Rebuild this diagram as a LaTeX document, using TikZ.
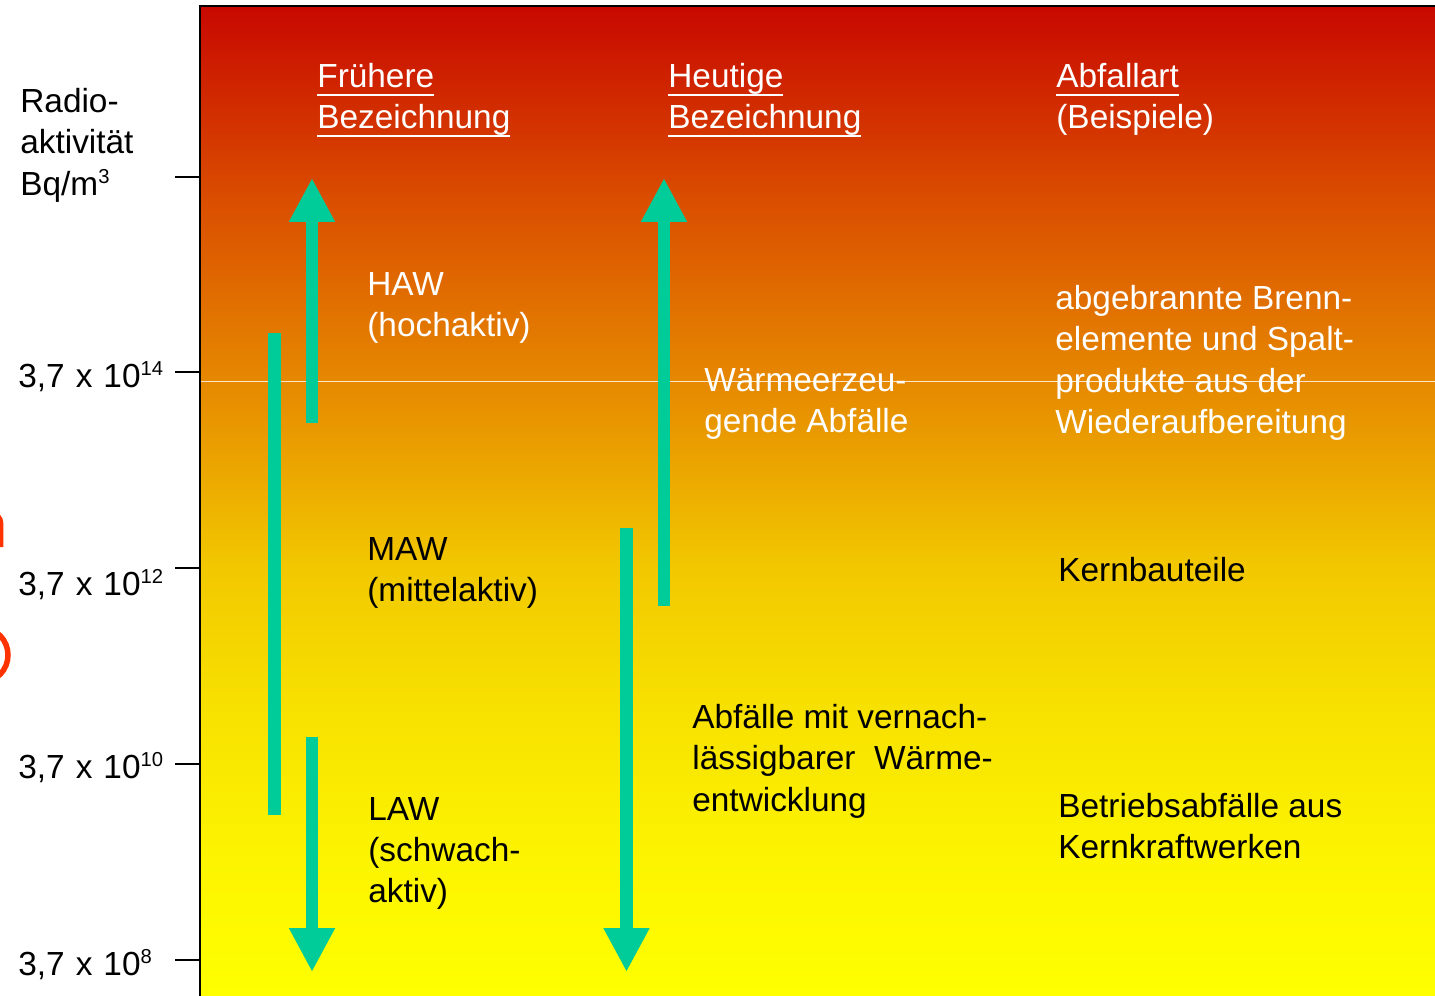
\documentclass[tikz,border=0pt]{standalone}
\usepackage{fontspec}
\setmainfont{Liberation Sans}
\usepackage{tikz}
\usetikzlibrary{arrows.meta}
\usepackage{xcolor}

\definecolor{strahlgruen}{RGB}{0,204,153}
\definecolor{fragmentrot}{RGB}{255,51,0}
\definecolor{skgelb}{RGB}{255,255,0}
\definecolor{skeins}{RGB}{252,243,0}
\definecolor{skzwei}{RGB}{247,224,0}
\definecolor{skdrei}{RGB}{242,200,0}
\definecolor{skvier}{RGB}{230,136,0}
\definecolor{skfuenf}{RGB}{218,78,0}
\definecolor{skrot}{RGB}{200,8,0}

% Farbverlauf von gelb (unten) nach rot (oben)
\pgfdeclareverticalshading{aktiv}{100bp}{color(0bp)=(skgelb);
  color(25bp)=(skgelb); color(32.4bp)=(skeins); color(39.9bp)=(skzwei);
  color(46.6bp)=(skdrei); color(56.1bp)=(skvier); color(65.2bp)=(skfuenf);
  color(75bp)=(skrot); color(100bp)=(skrot)}

\newcommand{\hoch}[1]{\raisebox{6.8pt}{\fontsize{11.5}{12}\selectfont #1}}
\newcommand{\unterstr}[1]{\setbox0\hbox{#1}\rlap{\rule[-4.6pt]{\wd0}{1.1pt}}\box0}

\begin{document}
\begin{tikzpicture}[x=0.02cm, y=-0.02cm,
            schrift/.style={anchor=north west, inner sep=0pt, align=left,
                font=\fontsize{19}{23.5}\selectfont},
            skala/.style={anchor=base west, inner sep=0pt,
                font=\fontsize{19}{23.5}\selectfont},
            pfeil/.style={strahlgruen, line width=0.25cm,
                -{Triangle[width=0.86cm, length=0.88cm]}},
            balken/.style={strahlgruen, line width=0.26cm}]
            \useasboundingbox (0,0) rectangle (1435,996);

            % Hintergrund
            \shade[shading=aktiv] (200,6) rectangle (1435,996);
            \draw[white, opacity=0.8, line width=0.5pt] (200,381) -- (1435,381);
            \draw[line width=1.2pt] (200,996) -- (200,6) -- (1435,6);

            % abgeschnittene Reste am linken Rand
            \draw[fragmentrot, line width=0.08cm] (1.5,547) -- (1.5,524)
                to[out=90, in=0] (-10,512);
            \draw[fragmentrot, line width=0.11cm] (-18,655)
                ellipse[x radius=26, y radius=27];

            % Achse
            \coordinate (t0) at (200,177);
            \coordinate (t14) at (200,372);
            \coordinate (t12) at (200,568);
            \coordinate (t10) at (200,764);
            \coordinate (t8) at (200,960);
            \draw[line width=1.1pt] (t0) -- ++(-25,0);
            \draw[line width=1.1pt] (t14) -- ++(-25,0);
            \draw[line width=1.1pt] (t12) -- ++(-25,0);
            \draw[line width=1.1pt] (t10) -- ++(-25,0);
            \draw[line width=1.1pt] (t8) -- ++(-25,0);

            \node[schrift] (einheit) at (20,88) {Radio-\\aktivität\\Bq/m\hoch{3}};
            \node[skala] (e14) at (18,387)
                {3,7\hspace{0.33em}x\hspace{0.33em}10\hoch{14}};
            \node[skala] (e12) at (18,595)
                {3,7\hspace{0.33em}x\hspace{0.33em}10\hoch{12}};
            \node[skala] (e10) at (18,778)
                {3,7\hspace{0.33em}x\hspace{0.33em}10\hoch{10}};
            \node[skala] (e8) at (18,975)
                {3,7\hspace{0.33em}x\hspace{0.33em}10\hoch{8}};

            % Spaltenkoepfe
            \node[schrift, text=white] (frueher) at (317,63)
                {\unterstr{Frühere}\\\unterstr{Bezeichnung}};
            \node[schrift, text=white] (heute) at (668,63)
                {\unterstr{Heutige}\\\unterstr{Bezeichnung}};
            \node[schrift, text=white] (art) at (1056,63)
                {\unterstr{Abfallart}\\(Beispiele)};

            % Klassen
            \node[schrift, text=white] (HAW) at (367,272) {HAW\\(hochaktiv)};
            \node[schrift] (MAW) at (367,537) {MAW\\(mittelaktiv)};
            \node[schrift] (LAW) at (368,797) {LAW\\(schwach-\\aktiv)};
            \node[schrift, text=white] (waerme) at (704,368)
                {Wärmeerzeu-\\gende Abfälle};
            \node[schrift] (vernach) at (692,704)
                {Abfälle mit vernach-\\lässigbarer\ \ Wärme-\\entwicklung};
            \node[schrift, text=white] (brenn) at (1055,285)
                {abgebrannte Brenn-\\elemente und Spalt-\\produkte aus der\\Wiederaufbereitung};
            \node[schrift] (kern) at (1058,557) {Kernbauteile};
            \node[schrift] (betrieb) at (1058,793)
                {Betriebsabfälle aus\\Kernkraftwerken};

            % Pfeile
            \coordinate (MAWoben) at (274.5,333);
            \coordinate (MAWunten) at (274.5,815);
            \coordinate (HAWfuss) at (312,423);
            \coordinate (HAWspitze) at (312,178);
            \coordinate (LAWkopf) at (312,737);
            \coordinate (LAWspitze) at (312,972);
            \coordinate (WAfuss) at (664,606);
            \coordinate (WAspitze) at (664,178);
            \coordinate (VAkopf) at (626.5,528);
            \coordinate (VAspitze) at (626.5,972);
            \draw[balken] (MAWoben) -- (MAWunten);
            \draw[pfeil] (HAWfuss) -- (HAWspitze);
            \draw[pfeil] (LAWkopf) -- (LAWspitze);
            \draw[pfeil] (WAfuss) -- (WAspitze);
            \draw[pfeil] (VAkopf) -- (VAspitze);
        \end{tikzpicture}
\end{document}
